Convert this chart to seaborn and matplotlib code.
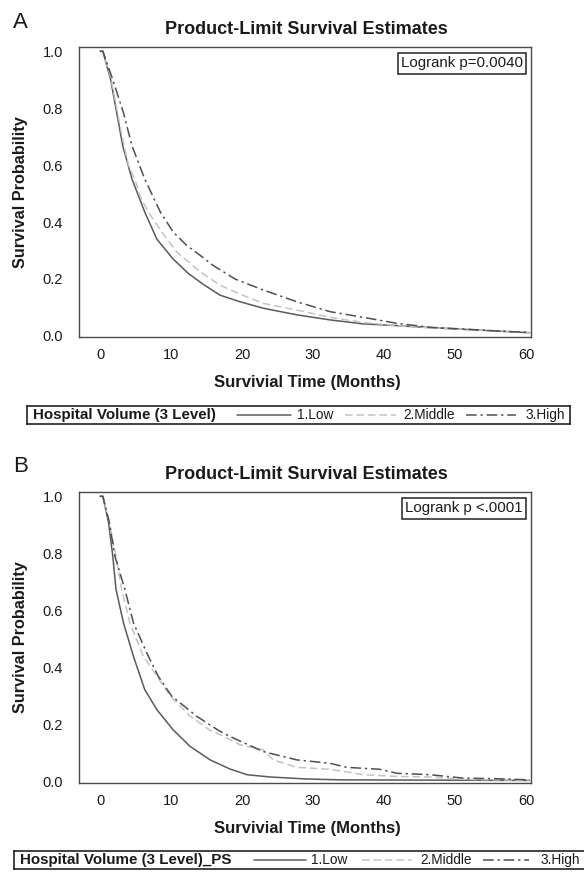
import numpy as np
import pandas as pd
import matplotlib
matplotlib.use("Agg")
import matplotlib.pyplot as plt
import seaborn as sns

sns.set_theme(style="white")
plt.rcParams['font.family'] = ['Liberation Sans', 'DejaVu Sans']

# ---------------- data ----------------
groups = ["1.Low", "2.Middle", "3.High"]

a_low_t = [0, 0.4, 1.5, 2.35, 3.2, 4.5, 6.3, 8.0, 10.3, 12.4, 14.6, 16.9, 19.7, 23, 27.7, 32.4, 37.1, 41.8, 46.5, 51.2, 55.9, 60.5]
a_low_s = [1.0, 1.0, 0.90, 0.784, 0.668, 0.551, 0.435, 0.34, 0.27, 0.22, 0.18, 0.143, 0.12, 0.097, 0.074, 0.056, 0.042, 0.036, 0.029, 0.023, 0.017, 0.011]

a_mid_t = [0, 0.4, 1.5, 2.35, 3.2, 4.0, 4.9, 5.6, 6.8, 8.7, 10.8, 14.1, 16.9, 19.7, 23, 27.7, 32.4, 37.1, 41.8, 46.5, 51.2, 55.9, 60.5]
a_mid_s = [1.0, 1.0, 0.91, 0.80, 0.69, 0.60, 0.551, 0.493, 0.435, 0.365, 0.295, 0.225, 0.178, 0.147, 0.114, 0.091, 0.065, 0.047, 0.036, 0.028, 0.023, 0.017, 0.011]

a_high_t = [0, 0.4, 1.8, 3.3, 4.5, 6.3, 8.5, 10.3, 12.2, 14.1, 15.9, 19.0, 23, 27.7, 32.4, 37.1, 41.8, 46.5, 51.2, 55.9, 60.5]
a_high_s = [1.0, 1.0, 0.90, 0.784, 0.668, 0.551, 0.435, 0.365, 0.318, 0.283, 0.248, 0.20, 0.161, 0.120, 0.085, 0.065, 0.044, 0.030, 0.024, 0.017, 0.012]

b_low_t = [0, 0.4, 1.2, 1.8, 2.25, 3.3, 4.7, 6.3, 8.0, 10.3, 12.7, 15.5, 18.3, 20.7, 24, 29.1, 33.8, 60.5]
b_low_s = [1.0, 1.0, 0.908, 0.79, 0.674, 0.557, 0.44, 0.323, 0.253, 0.182, 0.124, 0.077, 0.045, 0.025, 0.017, 0.010, 0.007, 0.005]

b_mid_t = [0, 0.4, 1.3, 2.25, 3.05, 4.2, 6.1, 8.0, 9.9, 12.7, 15.5, 17.4, 19.7, 23, 24.4, 27.7, 32.4, 37.1, 41.8, 46.5, 51.2, 60.5]
b_mid_s = [1.0, 1.0, 0.91, 0.79, 0.674, 0.557, 0.44, 0.37, 0.30, 0.23, 0.18, 0.16, 0.13, 0.112, 0.077, 0.051, 0.044, 0.025, 0.019, 0.017, 0.009, 0.005]

b_high_t = [0, 0.4, 1.3, 2.1, 3.5, 4.7, 6.8, 8.2, 10.1, 13.6, 16.7, 18.3, 23, 27.7, 32.4, 34.7, 39.4, 41.8, 46.5, 51.2, 55.9, 60.5]
b_high_s = [1.0, 1.0, 0.91, 0.79, 0.674, 0.557, 0.44, 0.37, 0.30, 0.23, 0.18, 0.159, 0.106, 0.077, 0.065, 0.051, 0.044, 0.030, 0.025, 0.013, 0.011, 0.007]

x_ticks = [0, 10, 20, 30, 40, 50, 60]
y_ticks = [0.0, 0.2, 0.4, 0.6, 0.8, 1.0]

# ---------------- styling ----------------
palette = {"1.Low": "#5a5a5a", "2.Middle": "#c4c4c4", "3.High": "#505050"}
dashes = {"1.Low": "", "2.Middle": (5, 2.5), "3.High": (7, 2.5, 1.5, 2.5)}
FRAME = "#4a4a4a"
TXT = "#1a1a1a"


def long_df(ts, ss):
    rows = []
    for g, t, s in zip(groups, ts, ss):
        rows.append(pd.DataFrame({"time": t, "surv": s, "group": g}))
    return pd.concat(rows, ignore_index=True)


W, H = 584, 875
fig = plt.figure(figsize=(W / 100, H / 100), dpi=100)


def fx(px):
    return px / W


def fy(py):
    return 1 - py / H


def panel(top, bottom, df, letter, letter_y, title_y, xlabel_y, pval, leg_box, leg_title, leg_items):
    ax = fig.add_axes([fx(79), fy(bottom), fx(531) - fx(79), fy(top) - fy(bottom)])
    sns.lineplot(data=df, x="time", y="surv", hue="group", style="group",
                 palette=palette, dashes=dashes, estimator=None, sort=False,
                 linewidth=1.1, legend=False, ax=ax)
    ax.set_xlim(-2.96, 60.7)
    ax.set_ylim(-0.004, 1.015)
    ax.set_xticks(x_ticks)
    ax.set_yticks(y_ticks)
    ax.set_yticklabels([f"{v:.1f}" for v in y_ticks])
    ax.set_xlabel("")
    ax.set_ylabel("")
    for sp in ax.spines.values():
        sp.set_color(FRAME)
        sp.set_linewidth(1.0)
    ax.tick_params(axis="both", which="major", direction="out", length=3.6,
                   width=1.0, color=FRAME, labelsize=10.5, labelcolor=TXT)
    ax.tick_params(axis="x", pad=4)
    ax.tick_params(axis="y", pad=8)
    ax.text(0.982, 0.968, pval, transform=ax.transAxes, ha="right", va="top",
            fontsize=10.8, color=TXT,
            bbox=dict(boxstyle="square,pad=0.22", fc="white", ec="#222222", lw=1.1))
    # panel letter, title and labels
    fig.text(fx(13), fy(letter_y), letter, fontsize=16, color=TXT, va="center", ha="left")
    fig.text(fx(306), fy(title_y), "Product-Limit Survival Estimates", fontsize=13,
             fontweight="bold", ha="center", va="center", color=TXT)
    fig.text(fx(307), fy(xlabel_y), "Survivial Time (Months)", fontsize=12,
             fontweight="bold", ha="center", va="center", color=TXT)
    fig.text(fx(21), fy((top + bottom) / 2), "Survival Probability", fontsize=11.7,
             fontweight="bold", rotation=90, ha="center", va="center", color=TXT)
    # legend strip
    x0, x1, y0, y1 = leg_box
    lax = fig.add_axes([fx(x0), fy(y1), fx(x1) - fx(x0), fy(y0) - fy(y1)])
    lax.set_xlim(x0, x1)
    lax.set_ylim(y1, y0)
    lax.set_xticks([])
    lax.set_yticks([])
    for sp in lax.spines.values():
        sp.set_color("#222222")
        sp.set_linewidth(1.2)
    ym = (y0 + y1) / 2
    lax.text(leg_title[1], ym, leg_title[0], fontsize=10.9, fontweight="bold",
             ha="left", va="center", color=TXT)
    for g, (ls0, ls1, tx) in zip(groups, leg_items):
        d = dashes[g]
        line, = lax.plot([ls0, ls1], [ym, ym], color=palette[g], lw=1.1)
        if d:
            line.set_dashes(d)
        lax.text(tx, ym, g, fontsize=9.8, ha="left", va="center", color=TXT)
    return ax


dfA = long_df([a_low_t, a_mid_t, a_high_t], [a_low_s, a_mid_s, a_high_s])
dfB = long_df([b_low_t, b_mid_t, b_high_t], [b_low_s, b_mid_s, b_high_s])

panel(47, 337, dfA, "A", 22, 29, 383, "Logrank p=0.0040",
      (27, 570, 406, 424), ("Hospital Volume (3 Level)", 33),
      [(237, 291, 297), (345, 396, 403), (466, 516, 525)])
panel(492, 783, dfB, "B", 467, 475, 828, "Logrank p <.0001",
      (14, 600, 851, 869), ("Hospital Volume (3 Level)_PS", 20),
      [(254, 306, 311), (362, 412, 420), (483, 529, 540)])

fig.savefig("out.png", dpi=100, facecolor="white")
